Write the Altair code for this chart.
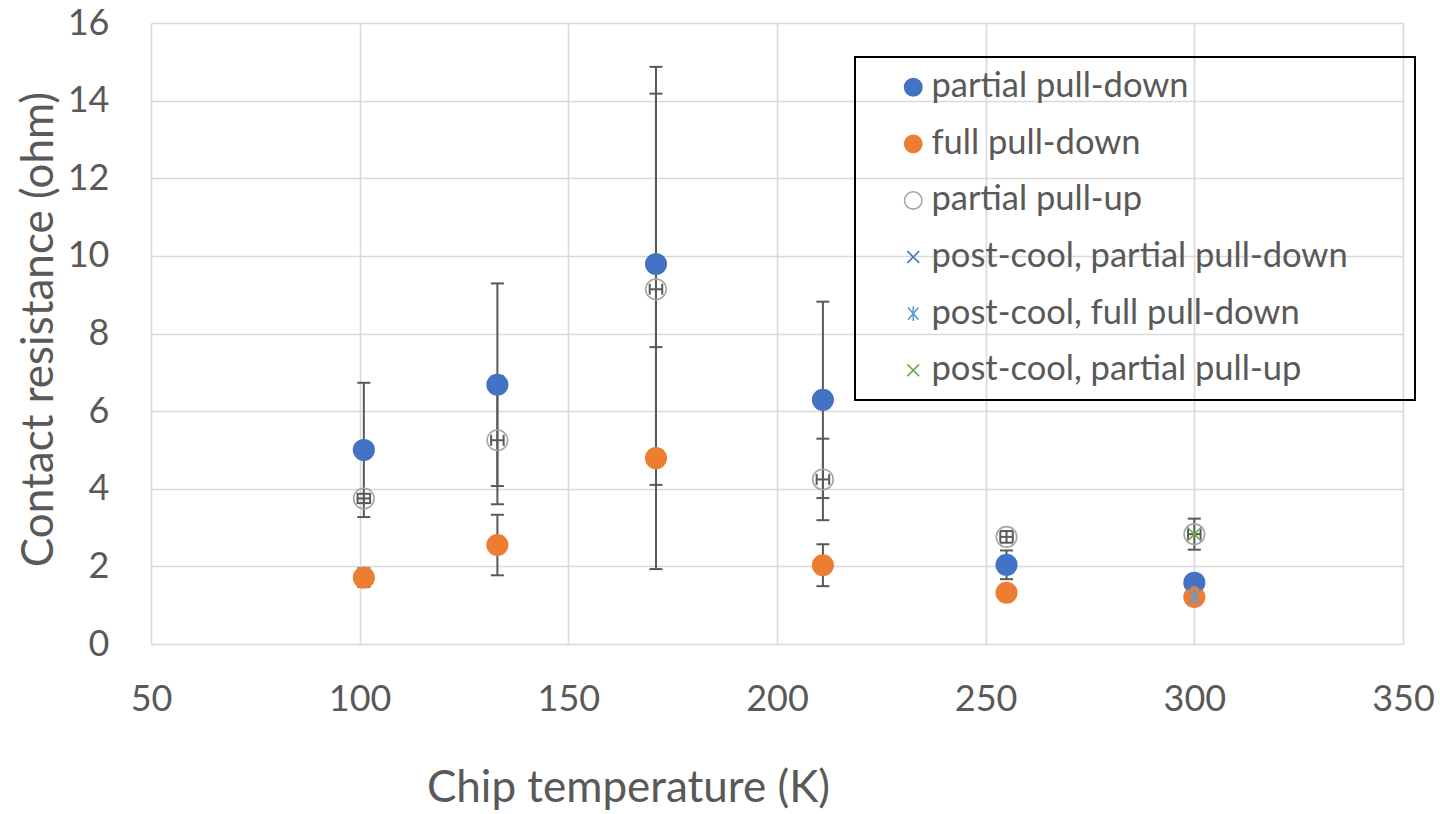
import altair as alt
import pandas as pd

# ---- data ----
series_names = [
    "partial pull-down",
    "full pull-down",
    "partial pull-up",
    "post-cool, partial pull-down",
    "post-cool, full pull-down",
    "post-cool, partial pull-up",
]

temps = [101, 133, 171, 211, 255, 300]

partial_down = [5.00, 6.68, 9.79, 6.29, 2.04, 1.58]
partial_down_err = [1.73, 2.61, 5.08, 2.53, 0.37, 0.10]

full_down = [1.71, 2.55, 4.79, 2.03, 1.32, 1.21]
full_down_err = [0.24, 0.78, 2.86, 0.54, 0.10, 0.10]

partial_up = [3.75, 5.25, 9.14, 4.24, 2.76, 2.83]
partial_up_err = [0.12, 1.65, 5.04, 1.05, 0.15, 0.40]
partial_up_xerr = [1.5, 1.5, 1.5, 1.5, 1.5, 1.5]

post_temps = [300]
post_partial_down = [1.57]
post_full_down = [1.22]
post_partial_up = [2.83]

stroke_colors = ["#4472C4", "#ED7D31", "#A5A5A5", "#4472C4", "#5B9BD5", "#70AD47"]
fill_colors = ["#4472C4", "#ED7D31", "transparent", "transparent", "transparent", "transparent"]
x_path = "M-0.68,-0.68L0.68,0.68M-0.68,0.68L0.68,-0.68"
star_path = "M-0.6,-0.7L0.6,0.7M-0.6,0.7L0.6,-0.7M0,-0.85L0,0.85"
shapes = ["circle", "circle", "circle", x_path, star_path, x_path]

x_ticks = [50, 100, 150, 200, 250, 300, 350]
y_ticks = [0, 2, 4, 6, 8, 10, 12, 14, 16]

# ---- tables ----
point_rows = []
for name, xs, ys in [
    (series_names[0], temps, partial_down),
    (series_names[1], temps, full_down),
    (series_names[2], temps, partial_up),
    (series_names[3], post_temps, post_partial_down),
    (series_names[4], post_temps, post_full_down),
    (series_names[5], post_temps, post_partial_up),
]:
    for xv, yv in zip(xs, ys):
        point_rows.append({"series": name, "x": xv, "y": yv})
points_df = pd.DataFrame(point_rows)

err_rows = []
for ys, es in [(partial_down, partial_down_err), (full_down, full_down_err), (partial_up, partial_up_err)]:
    for xv, yv, ev in zip(temps, ys, es):
        err_rows.append({"x": xv, "lo": yv - ev, "hi": yv + ev})
err_df = pd.DataFrame(err_rows)
cap_df = pd.concat([
    err_df[["x", "lo"]].rename(columns={"lo": "y"}),
    err_df[["x", "hi"]].rename(columns={"hi": "y"}),
])

xerr_rows = []
for xv, yv, ev in zip(temps, partial_up, partial_up_xerr):
    xerr_rows.append({"y": yv, "xlo": xv - ev, "xhi": xv + ev})
xerr_df = pd.DataFrame(xerr_rows)
xcap_df = pd.concat([
    xerr_df[["y", "xlo"]].rename(columns={"xlo": "x"}),
    xerr_df[["y", "xhi"]].rename(columns={"xhi": "x"}),
])

# ---- scales ----
x_scale = alt.Scale(domain=[50, 350], nice=False, zero=False)
y_scale = alt.Scale(domain=[0, 16], nice=False)
x_axis = alt.Axis(values=x_ticks, title="Chip temperature (K)", labelPadding=38, labelFlush=False,
                  titleX=477, titleY=157, titleBaseline="alphabetic", titleAlign="center")
y_axis = alt.Axis(values=y_ticks, title="Contact resistance (ohm)", labelPadding=42, labelFlush=False,
                  titleX=-99, titleY=306, titleBaseline="alphabetic", titleAlign="center", titleAngle=270)

ERR = "#595959"

bars = alt.Chart(err_df).mark_rule(color=ERR, strokeWidth=2).encode(
    x=alt.X("x:Q", scale=x_scale, axis=x_axis),
    y=alt.Y("lo:Q", scale=y_scale, axis=y_axis),
    y2="hi:Q",
)
caps = alt.Chart(cap_df).mark_tick(color=ERR, orient="horizontal", size=13, thickness=2, opacity=1).encode(
    x=alt.X("x:Q", scale=x_scale),
    y=alt.Y("y:Q", scale=y_scale),
)
xbars = alt.Chart(xerr_df).mark_rule(color=ERR, strokeWidth=2).encode(
    x=alt.X("xlo:Q", scale=x_scale),
    x2="xhi:Q",
    y=alt.Y("y:Q", scale=y_scale),
)
xcaps = alt.Chart(xcap_df).mark_tick(color=ERR, orient="vertical", size=11, thickness=2, opacity=1).encode(
    x=alt.X("x:Q", scale=x_scale),
    y=alt.Y("y:Q", scale=y_scale),
)

legend = alt.Legend(
    title="MMMMMMMMMM", titleOrient="right", titleFontSize=20, titlePadding=0,
    titleLimit=57, titleColor="transparent",
    orient="none", legendX=704, legendY=34,
    labelFont="Lato", labelFontSize=34.5, labelColor="#595959", labelLimit=800,
    symbolSize=300, symbolStrokeWidth=1.6, padding=13, rowPadding=21.6,
    symbolOffset=28, labelOffset=1, strokeColor="black",
)

pts = alt.Chart(points_df).mark_point(filled=False, opacity=1, size=420, strokeWidth=1.6).encode(
    x=alt.X("x:Q", scale=x_scale),
    y=alt.Y("y:Q", scale=y_scale),
    color=alt.Color("series:N", scale=alt.Scale(domain=series_names, range=stroke_colors), legend=legend),
    fill=alt.Fill("series:N", scale=alt.Scale(domain=series_names, range=fill_colors), legend=legend),
    shape=alt.Shape("series:N", scale=alt.Scale(domain=series_names, range=shapes), legend=legend),
)

chart = alt.layer(bars, caps, xbars, xcaps, pts).properties(
    width=1252, height=621,
    autosize=alt.AutoSizeParams(type="none"),
    padding={"left": 151, "top": 23, "right": 37, "bottom": 170},
).configure_view(stroke=None).configure_axis(
    grid=True, gridColor="#D9D9D9", gridWidth=1.6, domain=False, ticks=False,
    labelFont="Lato", labelFontSize=36, labelColor="#595959",
    titleFont="Lato", titleFontSize=44, titleColor="#595959", titleFontWeight="normal",
).configure_legend(strokeWidth=2)

chart.save("out.html", embed_options={"renderer": "svg", "actions": False})
